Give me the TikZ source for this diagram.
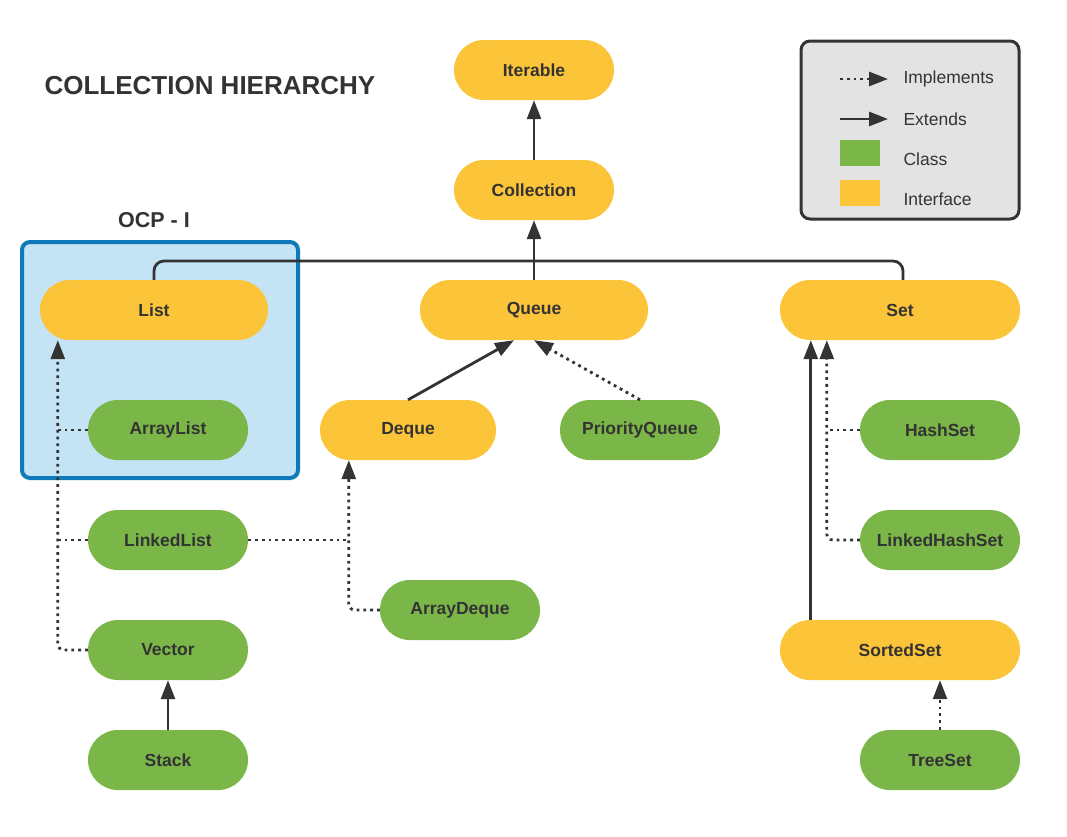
\documentclass[tikz,border=0pt]{standalone}
\usepackage{fontspec}
\setmainfont{Liberation Sans}
\usetikzlibrary{arrows.meta}

\definecolor{ifacecol}{HTML}{FCC438}
\definecolor{clscol}{HTML}{7AB648}
\definecolor{inkcol}{HTML}{333333}
\definecolor{ocpfill}{HTML}{C4E4F6}
\definecolor{ocpline}{HTML}{1079BA}
\definecolor{lgdfill}{HTML}{E3E3E3}

\begin{document}
\begin{tikzpicture}
 [
  x=1pt, y=-1pt,
  >={Triangle[length=19pt,width=14pt]},
  box/.style    = {rectangle, rounded corners=30pt, minimum height=60pt,
                   inner sep=0pt, text=inkcol,
                   font=\fontsize{17.5}{21}\selectfont\bfseries},
  iface/.style  = {box, fill=ifacecol},
  cls/.style    = {box, fill=clscol, minimum width=160pt},
  ext/.style    = {draw=inkcol, line width=2.8pt},
  impl/.style   = {draw=inkcol, line width=2.8pt, dash pattern=on 2.8pt off 4pt},
  lgdtxt/.style = {anchor=west, text=inkcol, font=\fontsize{17.5}{21}\selectfont},
 ]
 \useasboundingbox (0,0) rectangle (1067,836);

 % OCP - I group
 \node[draw=ocpline, fill=ocpfill, line width=4pt, rounded corners=8pt,
       minimum width=276pt, minimum height=236pt] (ocp) at (160,360) {};
 \node[text=inkcol, font=\fontsize{21.5}{25}\selectfont\bfseries] (ocplbl) at (154,220) {OCP - I};
 \node[anchor=west, text=inkcol, font=\fontsize{26}{30}\selectfont\bfseries] (title) at (41,86) {COLLECTION HIERARCHY};

 % interfaces
 \foreach \name/\x/\y/\w/\txt in
  {it/534/70/160/Iterable, coll/534/190/160/Collection,
   list/154/310/228/List, q/534/310/228/Queue, set/900/310/240/Set,
   dq/408/430/176/Deque, ss/900/650/240/SortedSet}
 {
  \node[iface, minimum width=\w pt] (\name) at (\x,\y) {\txt};
 }

 % classes
 \foreach \name/\x/\y/\txt in
  {al/168/430/ArrayList, ll/168/540/LinkedList, vec/168/650/Vector,
   stk/168/760/Stack, ad/460/610/ArrayDeque, pq/640/430/PriorityQueue,
   hs/940/430/HashSet, lhs/940/540/LinkedHashSet, ts/940/760/TreeSet}
 {
  \node[cls] (\name) at (\x,\y) {\txt};
 }

 % entry points on the interfaces
 \coordinate (listin) at ([xshift=18pt]list.south west);
 \coordinate (dqin)   at ([xshift=29pt]dq.south west);
 \coordinate (setin)  at ([xshift=47pt]set.south west);
 \coordinate (bar)    at (534,261);

 % extends
 \draw[ext,->] (coll) -- (it);
 \draw[ext,->] (q.north) -- (coll.south);
 \draw[ext, rounded corners=10pt] (list.north) |- (bar) -| ([xshift=3pt]set.north);
 \draw[ext,->] (dq.north) -- ([xshift=-20pt]q.south);
 \draw[ext,->] ([xshift=31pt]ss.north west) -- ([xshift=31pt]set.south west);
 \draw[ext,->] (stk) -- (vec);

 % implements
 \draw[impl,->] (pq.north) -- (q.south);
 \draw[impl,->, rounded corners=6pt] (vec.west) -| (listin);
 \draw[impl] (al.west) -- (al.west -| listin);
 \draw[impl] (ll.west) -- (ll.west -| listin);
 \draw[impl,->, rounded corners=6pt] (ad.west) -| (dqin);
 \draw[impl] (ll.east) -- (ll.east -| dqin);
 \draw[impl,->, rounded corners=6pt] (lhs.west) -| (setin);
 \draw[impl] (hs.west) -- (hs.west -| setin);
 \draw[impl,->] (ts.north) -- (ts.north |- ss.south);

 % legend
 \node[draw=inkcol, fill=lgdfill, line width=3pt, rounded corners=9pt,
       minimum width=218pt, minimum height=178pt] (lgd) at (910,130) {};
 \coordinate (impla) at (840,79);
 \coordinate (implb) at (888,79);
 \coordinate (exta)  at (840,119);
 \coordinate (extb)  at (888,119);
 \draw[impl,->] (impla) -- (implb);
 \draw[ext,->] (exta) -- (extb);
 \node[fill=clscol, minimum width=40pt, minimum height=26pt, inner sep=0pt] (lgdcls) at (860,153) {};
 \node[fill=ifacecol, minimum width=40pt, minimum height=26pt, inner sep=0pt] (lgdif) at (860,193) {};
 \node[lgdtxt] (limpl) at (900,79)  {Implements};
 \node[lgdtxt] (lext)  at (900,119) {Extends};
 \node[lgdtxt] (lcls)  at (900,159) {Class};
 \node[lgdtxt] (lif)   at (900,199) {Interface};
\end{tikzpicture}
\end{document}
